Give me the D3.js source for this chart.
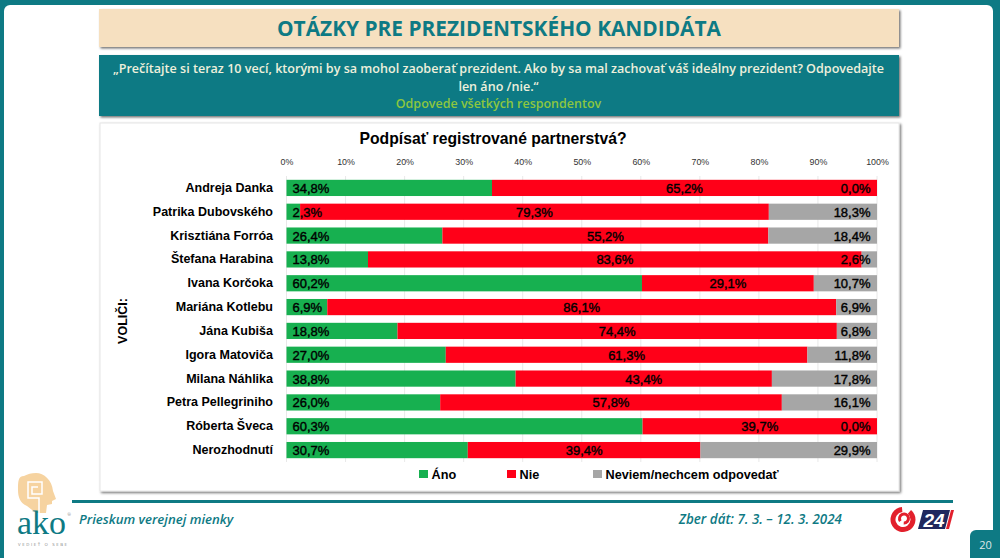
<!DOCTYPE html>
<html><head><meta charset="utf-8">
<script src="https://cdn.jsdelivr.net/npm/d3@7"></script>
<style>html,body{margin:0;padding:0;background:#fff;overflow:hidden}svg{display:block}</style>
</head><body><svg id="c" width="1000" height="558"></svg>
<script>
const categories=["Andreja Danka","Patrika Dubovského","Krisztiána Forróa","Štefana Harabina","Ivana Korčoka","Mariána Kotlebu","Jána Kubiša","Igora Matoviča","Milana Náhlika","Petra Pellegriniho","Róberta Šveca","Nerozhodnutí"];
const ano=[34.8,2.3,26.4,13.8,60.2,6.9,18.8,27.0,38.8,26.0,60.3,30.7];
const nie=[65.2,79.3,55.2,83.6,29.1,86.1,74.4,61.3,43.4,57.8,39.7,39.4];
const neviem=[0.0,18.3,18.4,2.6,10.7,6.9,6.8,11.8,17.8,16.1,0.0,29.9];
const seriesNames=["Áno","Nie","Neviem/nechcem odpovedať"];
const seriesColors=["#17b050","#ff0018","#a6a6a6"];
const tickValues=[0,10,20,30,40,50,60,70,80,90,100];
const pageTitle="OTÁZKY PRE PREZIDENTSKÉHO KANDIDÁTA";
const questionLines=["„Prečítajte si teraz 10 vecí, ktorými by sa mohol zaoberať prezident. Ako by sa mal zachovať váš ideálny prezident? Odpovedajte","len áno /nie.“"];
const respondents="Odpovede všetkých respondentov";
const chartTitle="Podpísať registrované partnerstvá?";
const footLeft="Prieskum verejnej mienky", footRight="Zber dát: 7. 3. – 12. 3. 2024";

const TEAL="#0e7a84", SANS="'Open Sans',sans-serif", ARIAL="'Liberation Sans',sans-serif";
const svg=d3.select("#c");
const defs=svg.append("defs");
const f=defs.append("filter").attr("id","sh").attr("x","-2%").attr("y","-5%").attr("width","104%").attr("height","115%");
f.append("feDropShadow").attr("dx",1.5).attr("dy",1.5).attr("stdDeviation",1.2).attr("flood-color","#000").attr("flood-opacity",.55);

// slide frame
svg.append("rect").attr("width",1000).attr("height",558).attr("fill",TEAL);
svg.append("path").attr("d","M4,558V11a6,6 0 0 1 6,-6H987a6,6 0 0 1 6,6V558Z").attr("fill","#fff");

// banners
svg.append("rect").attr("x",99).attr("y",9).attr("width",800).attr("height",38).attr("fill","#f6e0c0").attr("filter","url(#sh)");
svg.append("text").attr("x",499).attr("y",36).attr("text-anchor","middle").attr("font-family",SANS).attr("font-weight",700).attr("font-size",21).attr("fill",TEAL).attr("textLength",444).attr("lengthAdjust","spacingAndGlyphs").text(pageTitle);
svg.append("rect").attr("x",99).attr("y",55).attr("width",800).attr("height",61).attr("fill",TEAL).attr("filter","url(#sh)");
questionLines.forEach((t,i)=>svg.append("text").attr("x",498.5).attr("y",73+i*17.5).attr("text-anchor","middle").attr("font-family",SANS).attr("font-weight",600).attr("font-size",12.57).attr("fill","#eef0dc").text(t));
svg.append("text").attr("x",498.5).attr("y",108).attr("text-anchor","middle").attr("font-family",SANS).attr("font-weight",600).attr("font-size",12.5).attr("fill","#8cc63f").text(respondents);

// chart card
svg.append("rect").attr("x",100).attr("y",123).attr("width",799).attr("height",368).attr("fill","#fff").attr("stroke","#e6e6e6").attr("filter","url(#sh)");
svg.append("text").attr("x",493).attr("y",144).attr("text-anchor","middle").attr("font-family",ARIAL).attr("font-weight",700).attr("font-size",17).attr("textLength",267).attr("lengthAdjust","spacingAndGlyphs").attr("fill","#000").text(chartTitle);

// scales
const x=d3.scaleLinear().domain([0,100]).range([286.5,877]);
const y=d3.scaleBand().domain(categories).range([176,462]).paddingInner(0.32).paddingOuter(0.16);
const rows=categories.map((c,i)=>({c,"0":ano[i],"1":nie[i],"2":neviem[i]}));
const stack=d3.stack().keys(["0","1","2"]).offset(d3.stackOffsetExpand)(rows);

// axis
const ax=svg.append("g").attr("transform","translate(0,176)").call(d3.axisTop(x).tickValues(tickValues).tickSize(0).tickFormat(d=>d+"%"));
ax.select(".domain").remove();
ax.selectAll("text").attr("y",-11).attr("font-family",ARIAL).attr("font-size",8.9).attr("fill","#333").attr("font-weight",400);
svg.append("g").selectAll("line").data(tickValues).join("line").attr("x1",x).attr("x2",x).attr("y1",176).attr("y2",462).attr("stroke","#e2e2e2").attr("stroke-width",.8);

// bars
stack.forEach((s,k)=>{
  svg.append("g").selectAll("rect").data(s).join("rect")
    .attr("x",d=>x(d[0]*100)).attr("width",d=>x(d[1]*100)-x(d[0]*100))
    .attr("y",d=>y(d.data.c)).attr("height",y.bandwidth()).attr("fill",seriesColors[k]);
});

// labels
const fmt=v=>v.toFixed(1).replace(".",",")+"%";
stack.forEach((s,k)=>{
  svg.append("g").selectAll("text").data(s).join("text")
    .attr("font-family",ARIAL).attr("font-weight",400).attr("font-size",13).attr("stroke","#000").attr("stroke-width",.4).attr("fill","#000").attr("dominant-baseline","central")
    .attr("x",d=>k===0?x(0)+6:k===2?x(100)-6.5:x((d[0]+d[1])*50))
    .attr("y",d=>y(d.data.c)+y.bandwidth()/2+.5)
    .attr("text-anchor",k===0?"start":k===2?"end":"middle")
    .text(d=>fmt(d.data[k]));
});
// category labels
svg.append("g").selectAll("text").data(categories).join("text").attr("x",273).attr("y",d=>y(d)+y.bandwidth()/2).attr("dominant-baseline","central").attr("text-anchor","end").attr("font-family",ARIAL).attr("font-weight",700).attr("font-size",12.5).attr("fill","#000").text(d=>d);
svg.append("text").attr("transform","translate(127,321) rotate(-90)").attr("text-anchor","middle").attr("font-family",ARIAL).attr("font-weight",700).attr("font-size",12.5).attr("fill","#000").text("VOLIČI:");

// legend
const legendX=[419,507,593];
seriesNames.forEach((n,i)=>{
  svg.append("rect").attr("x",legendX[i]).attr("y",470).attr("width",9).attr("height",8).attr("fill",seriesColors[i]);
  svg.append("text").attr("x",legendX[i]+12.5).attr("y",478.5).attr("font-family",ARIAL).attr("font-weight",700).attr("font-size",12.7).attr("fill","#000").text(n);
});

// footer
svg.append("rect").attr("x",72).attr("y",500).attr("width",881).attr("height",3).attr("fill",TEAL);
svg.append("text").attr("x",79).attr("y",524).attr("font-family",SANS).attr("font-style","italic").attr("font-weight",600).attr("font-size",13.2).attr("fill",TEAL).text(footLeft);
svg.append("text").attr("x",842).attr("y",524).attr("text-anchor","end").attr("font-family",SANS).attr("font-style","italic").attr("font-weight",600).attr("font-size",13.4).attr("fill",TEAL).text(footRight);

// ako logo
const logo=svg.append("g");
logo.append("path").attr("d","M24,476C18,476 18,482 18,490C18,497 20,503 27,506L36,513H46L47,505L52,504L52,501L56,499L53,491C52,480 44,473 36,473C31,473 28,474 24,476Z").attr("fill","#f6d3a0");
logo.append("path").attr("d","M39,513V498H28V482H42V494H32V487H38").attr("fill","none").attr("stroke","#fff").attr("stroke-width",1.5);
logo.append("text").attr("x",17).attr("y",534).attr("font-family","'Liberation Serif',serif").attr("font-size",33).attr("textLength",49).attr("lengthAdjust","spacingAndGlyphs").attr("fill",TEAL).text("ako");
logo.append("text").attr("x",67.5).attr("y",516).attr("font-family",SANS).attr("font-size",4).attr("fill","#777").text("®");
logo.append("text").attr("x",18).attr("y",546).attr("font-family",SANS).attr("font-size",4.3).attr("textLength",49).attr("fill","#888").text("VEDIEŤ O SEBE");

// TV logo
const tv=svg.append("g");
const arc=d3.arc();
tv.append("path").attr("transform","translate(903,519.5)").attr("d",arc({innerRadius:7.5,outerRadius:12.5,startAngle:0.7,endAngle:6.2})).attr("fill","#e2202c");
tv.append("path").attr("transform","translate(904,518.5)").attr("d",arc({innerRadius:3,outerRadius:6,startAngle:-2.2,endAngle:3.2})).attr("fill","#e2202c");
tv.append("path").attr("d","M923,510H950L945,529H918Z").attr("fill","#20285e");
tv.append("path").attr("d","M951,510H954L949,529H946Z").attr("fill","#e2202c");
tv.append("text").attr("x",934).attr("y",526.5).attr("text-anchor","middle").attr("font-family",ARIAL).attr("font-weight",700).attr("font-style","italic").attr("font-size",19).attr("fill","#fff").text("24");

// page number
svg.append("path").attr("d","M970,558V536a6,6 0 0 1 6,-6H993V558Z").attr("fill",TEAL);
svg.append("text").attr("x",985.5).attr("y",549).attr("text-anchor","middle").attr("font-family",SANS).attr("font-size",11).attr("fill","#dfe8e8").text("20");
</script></body></html>
